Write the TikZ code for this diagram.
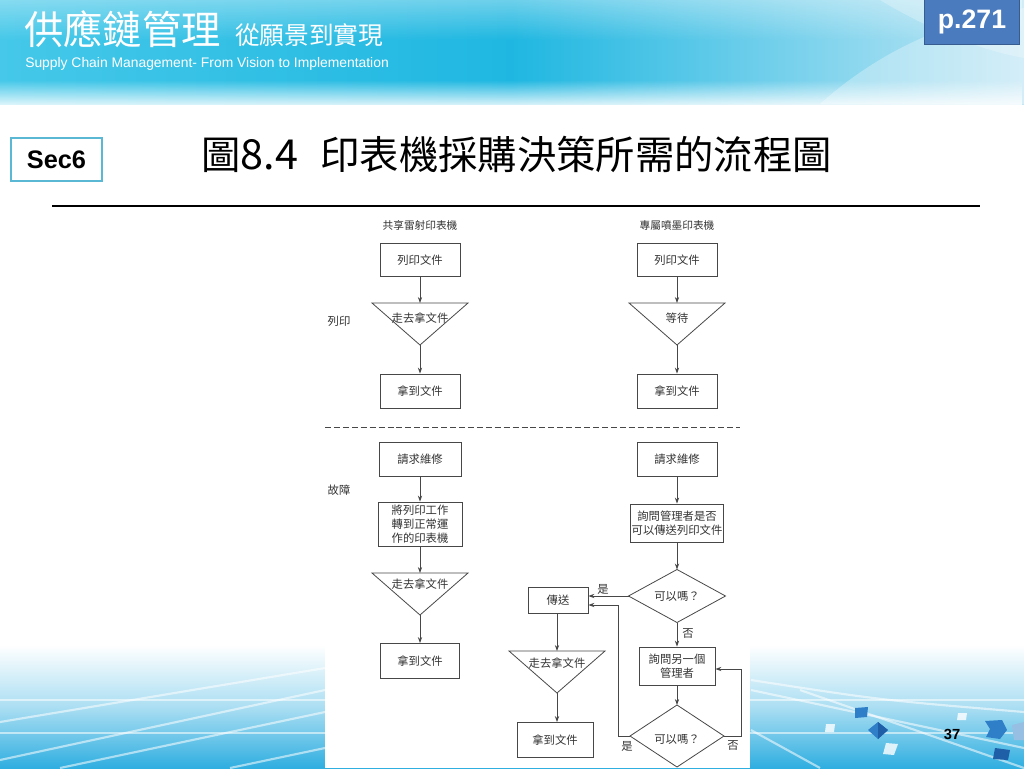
\documentclass[tikz,border=0pt]{standalone}
\usepackage{fontspec}
\setmainfont{Liberation Sans}
\newfontfamily\cjk{Noto Sans CJK TC}
\usetikzlibrary{arrows.meta,fadings}
\definecolor{bnA}{HTML}{45C8E9}
\definecolor{bnB}{HTML}{1FB7E1}
\definecolor{bnC}{HTML}{C2E7F5}
\definecolor{pbox}{HTML}{4A7BBF}
\definecolor{secb}{HTML}{5BB8D4}
\definecolor{fl}{HTML}{474747}
\definecolor{ftxt}{HTML}{333333}
\definecolor{bandc}{HTML}{2FAEE0}
\definecolor{cubeA}{HTML}{2F7FC8}
\definecolor{cubeB}{HTML}{1E5FA8}
\begin{document}
\begin{tikzpicture}[x=0.75pt,y=-0.75pt,
  fbox/.style={draw=fl, line width=0.6pt, fill=white, text=ftxt,
    font=\cjk\fontsize{8.5}{10.5}\selectfont, align=center, inner sep=1pt},
  ghost/.style={inner sep=0pt, outer sep=0pt, text=ftxt,
    font=\cjk\fontsize{8.5}{10.5}\selectfont, align=center},
  tri/.style={ghost, minimum width=72pt, minimum height=31.5pt},
  shp/.style={draw=fl, line width=0.6pt, fill=white, line join=miter},
  flab/.style={text=ftxt, font=\cjk\fontsize{8.5}{10.5}\selectfont, inner sep=0pt},
  arr/.style={draw=fl, line width=0.6pt, -{Stealth[length=4.5pt,width=3.2pt]}},
  wline/.style={white, line width=1.6pt, opacity=0.55}
]
\useasboundingbox (0,0) rectangle (1024,768);
\fill[white] (0,0) rectangle (1024,768);

% ---------- banner ----------
\shade[left color=bnA, right color=bnC, middle color=bnB] (0,0) rectangle (1024,104);
\fill[white, opacity=0.35, path fading=south] (0,0) rectangle (1024,40);
\fill[white, opacity=0.3] (820,104) .. controls (880,50) and (950,20) .. (1024,8) -- (1024,104) -- cycle;
\fill[white, opacity=0.25] (880,0) .. controls (930,30) and (980,50) .. (1024,58) -- (1024,0) -- cycle;
\fill[white, path fading=north] (0,80) rectangle (1024,110);

\node[anchor=base west, text=white, font=\cjk\fontsize{29.5}{30}\selectfont, inner sep=0pt] (bt1) at (24,44) {供應鏈管理};
\node[anchor=base west, text=white, font=\cjk\fontsize{18.5}{20}\selectfont, inner sep=0pt] (bt2) at (235,44) {從願景到實現};
\node[anchor=base west, text=white, font=\fontsize{10.4}{11}\selectfont, inner sep=0pt] (bt3) at (25,67) {Supply Chain Management- From Vision to Implementation};
\node[fill=pbox, draw=pbox!75!black, line width=0.8pt, minimum width=71pt, minimum height=33.5pt, text=white,
  font=\bfseries\fontsize{20}{20}\selectfont] (pg) at (972,22) {p.271};

% ---------- title ----------
\node[draw=secb, line width=1.6pt, fill=white, minimum width=68pt, minimum height=32.5pt,
  font=\bfseries\fontsize{19}{19}\selectfont] (sec) at (56.5,159.5) {Sec6};
\node[anchor=base west, inner sep=0pt, font=\cjk\fontsize{29.5}{30}\selectfont] (ttl) at (201,169) {圖{\fontsize{31}{30}\selectfont 8.4}\hspace{17pt}印表機採購決策所需的流程圖};
\draw[line width=1.2pt] (52,206) -- (980,206);

% ---------- bottom band ----------
\shade[top color=white, bottom color=bandc, middle color=bandc!40] (0,645) rectangle (1024,768);
\draw[wline] (0,700) -- (1024,700);
\draw[wline] (0,733) -- (1024,733);
\draw[wline] (0,760) -- (325,690);
\draw[wline] (60,768) -- (325,712);
\draw[wline] (0,722) -- (325,668);
\draw[wline] (230,768) -- (325,748);
\draw[wline] (751,690) -- (1024,748);
\draw[wline] (751,730) -- (820,768);
\draw[wline] (751,680) .. controls (880,700) .. (1024,712);
\draw[wline] (800,690) -- (1024,768);
% cubes
\fill[cubeA] (855,708) -- (868,707) -- (867,717) -- (855,718) -- cycle;
\fill[cubeA] (878,722) -- (888,730) -- (878,739) -- (868,730) -- cycle;
\fill[cubeB] (878,722) -- (888,730) -- (878,739) -- cycle;
\fill[white, opacity=0.8] (886,743) -- (898,744) -- (894,755) -- (883,754) -- cycle;
\fill[white, opacity=0.8] (826,724) -- (835,724) -- (834,732) -- (825,732) -- cycle;
\fill[white, opacity=0.8] (958,713) -- (967,713) -- (966,720) -- (957,720) -- cycle;
\fill[cubeA] (985,721) -- (1002,720) -- (1007,730) -- (1000,739) -- (986,737) -- (990,729) -- cycle;
\fill[cubeB] (995,748) -- (1010,750) -- (1008,760) -- (993,759) -- cycle;
\fill[cubeA!50!white] (1012,725) -- (1024,722) -- (1024,740) -- (1014,740) -- cycle;
\node[font=\bfseries\fontsize{11}{11}\selectfont, inner sep=0pt] (pn) at (952,734) {37};

% ---------- flowchart sheet ----------
\fill[white] (325,208) rectangle (750,768);

% headers and row labels
\node[flab, font=\cjk\fontsize{8}{10}\selectfont] (hL) at (420,225) {共享雷射印表機};
\node[flab, font=\cjk\fontsize{8}{10}\selectfont] (hR) at (677,225) {專屬噴墨印表機};
\node[flab] (rowA) at (339,321) {列印};
\node[flab] (rowB) at (339,490) {故障};

% --- print, left
\node[fbox, minimum width=60pt, minimum height=24.75pt] (a1) at (420,260) {列印文件};
\node[tri] (t1) at (420,324) {};
\draw[shp] (t1.north west) -- (t1.north east) -- (t1.south) -- cycle;
\node[flab] (t1l) at (420,318) {走去拿文件};
\node[fbox, minimum width=60pt, minimum height=25.5pt] (a2) at (420,391) {拿到文件};
\draw[arr] (a1.south) -- (t1.north);
\draw[arr] (t1.south) -- (a2.north);

% --- print, right
\node[fbox, minimum width=60pt, minimum height=24.75pt] (b1) at (677,260) {列印文件};
\node[tri] (t2) at (677,324) {};
\draw[shp] (t2.north west) -- (t2.north east) -- (t2.south) -- cycle;
\node[flab] (t2l) at (677,318) {等待};
\node[fbox, minimum width=60pt, minimum height=25.5pt] (b2) at (677,391) {拿到文件};
\draw[arr] (b1.south) -- (t2.north);
\draw[arr] (t2.south) -- (b2.north);

% dashed separator
\coordinate (dsL) at (325,427);
\coordinate (dsR) at (740,427);
\draw[fl, line width=0.6pt, dash pattern=on 4.5pt off 2.2pt] (dsL) -- (dsR);

% --- failure, left
\node[fbox, minimum width=61.5pt, minimum height=25.5pt] (c1) at (420,459) {請求維修};
\node[fbox, minimum width=63pt, minimum height=33pt] (c2) at (420,524) {將列印工作\\轉到正常運\\作的印表機};
\node[tri] (t3) at (420,594) {};
\draw[shp] (t3.north west) -- (t3.north east) -- (t3.south) -- cycle;
\node[flab] (t3l) at (420,584) {走去拿文件};
\node[fbox, minimum width=59pt, minimum height=26.25pt] (c3) at (420,661) {拿到文件};
\draw[arr] (c1.south) -- (c2.north);
\draw[arr] (c2.south) -- (t3.north);
\draw[arr] (t3.south) -- (c3.north);

% --- failure, right
\node[fbox, minimum width=60pt, minimum height=25.5pt] (d1) at (677,459) {請求維修};
\node[fbox, minimum width=69pt, minimum height=28.5pt] (d2) at (677,523) {詢問管理者是否\\可以傳送列印文件};
\node[ghost, minimum width=72.75pt, minimum height=39.75pt] (q1) at (677,596) {};
\draw[shp] (q1.north) -- (q1.east) -- (q1.south) -- (q1.west) -- cycle;
\node[ghost] (q1t) at (677,596) {可以嗎？};
\node[fbox, minimum width=45pt, minimum height=19.5pt] (s1) at (558,600) {傳送};
\node[tri] (t4) at (557,672) {};
\draw[shp] (t4.north west) -- (t4.north east) -- (t4.south) -- cycle;
\node[flab] (t4l) at (557,663) {走去拿文件};
\node[fbox, minimum width=57pt, minimum height=26.25pt] (s2) at (555,740) {拿到文件};
\node[fbox, minimum width=57pt, minimum height=28.5pt] (e1) at (677,666) {詢問另一個\\管理者};
\node[ghost, minimum width=70.5pt, minimum height=46.5pt] (q2) at (677,736) {};
\draw[shp] (q2.north) -- (q2.east) -- (q2.south) -- (q2.west) -- cycle;
\node[ghost] (q2t) at (677,739) {可以嗎？};

\draw[arr] (d1.south) -- (d2.north);
\draw[arr] (d2.south) -- (q1.north);
\draw[arr] (q1.west) -- (q1.west -| s1.east);
\draw[arr] (s1.south -| t4.north) -- (t4.north);
\draw[arr] (t4.south) -- (t4.south |- s2.north);
\draw[arr] (q1.south) -- (e1.north);
\draw[arr] (e1.south) -- (q2.north);
\coordinate (lpY) at (618,605);
\coordinate (lpN) at (741,669);
\draw[arr] (q2.west) -| (lpY) -- (lpY -| s1.east);
\draw[arr] (q2.east) -| (lpN) -- (lpN -| e1.east);

\node[flab] (yes1) at (603,589) {是};
\node[flab] (no1) at (688,634) {否};
\node[flab] (yes2) at (627,746) {是};
\node[flab] (no2) at (733,746) {否};
\end{tikzpicture}
\end{document}
